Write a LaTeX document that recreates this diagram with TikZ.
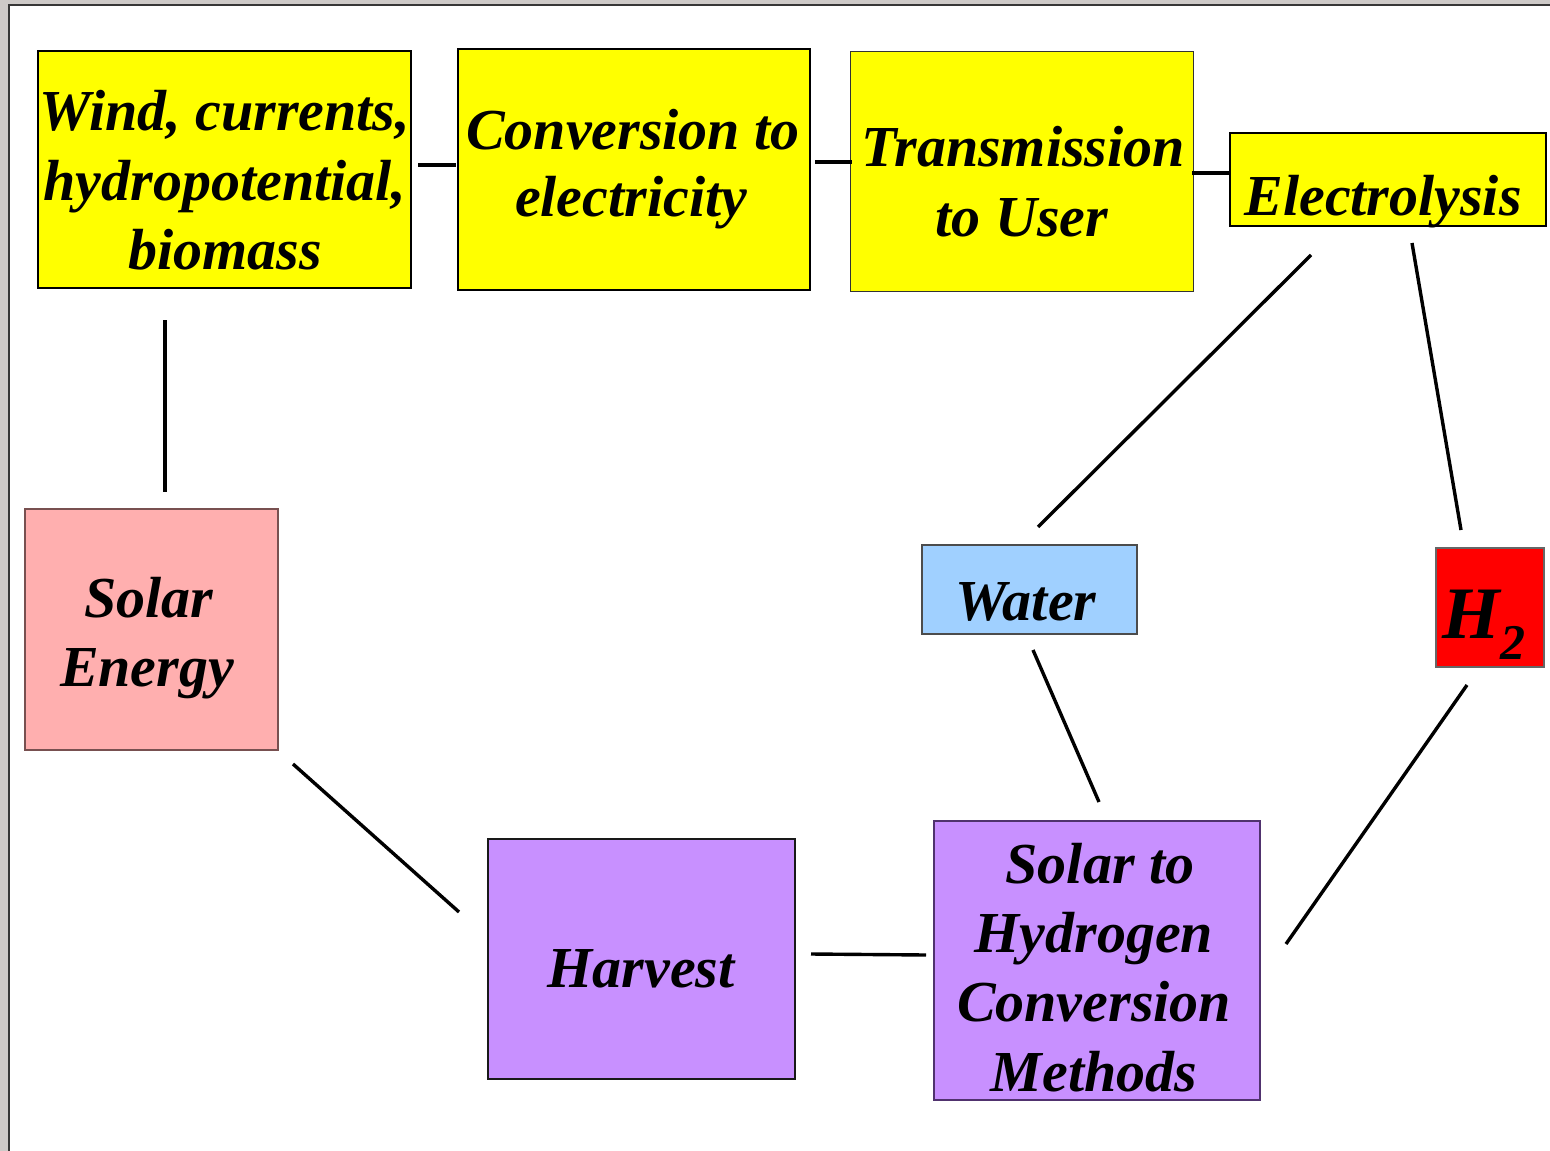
\documentclass[tikz,border=0pt]{standalone}
\usepackage{fontspec}
\setmainfont{Liberation Serif}
\definecolor{yel}{RGB}{255,255,0}
\definecolor{pinkbox}{RGB}{255,175,175}
\definecolor{waterbox}{RGB}{160,208,255}
\definecolor{redbox}{RGB}{255,0,0}
\definecolor{purplebox}{RGB}{200,144,255}
\definecolor{bgout}{RGB}{206,202,200}
\definecolor{framecol}{RGB}{55,55,55}
\begin{document}
\begin{tikzpicture}[x=1pt,y=-1pt,
  box/.style={draw, inner sep=0pt, outer sep=0pt},
  lbl/.style={anchor=base, inner sep=0pt, outer sep=0pt, font=\fontsize{58}{70}\selectfont\bfseries\itshape},
  link/.style={line width=3.4pt}]
\useasboundingbox (0,0) rectangle (1550,1151);
\fill[white] (0,0) rectangle (1550,1151);
\fill[bgout] (0,0) rectangle (8,1151);
\fill[bgout] (0,0) rectangle (1550,4);
\draw[line width=2pt, framecol] (8.5,1151) -- (8.5,4.5) -- (1550,4.5);

% boxes
\node[box, fill=yel, line width=2pt, minimum width=373pt, minimum height=237pt] (wind) at (224.5,169.5) {};
\node[box, fill=yel, line width=2pt, minimum width=352pt, minimum height=241pt] (conv) at (634,169.5) {};
\node[box, fill=yel, line width=1pt, draw=black!80, minimum width=343pt, minimum height=240pt] (trans) at (1021.5,171) {};
\node[box, fill=yel, line width=2pt, minimum width=316pt, minimum height=93pt] (elec) at (1388,179.5) {};
\node[box, fill=pinkbox, line width=1.2pt, draw={rgb,255:red,120;green,80;blue,80}, minimum width=253pt, minimum height=241pt] (solar) at (151.5,629.5) {};
\node[box, fill=waterbox, line width=1.2pt, draw=black!70, minimum width=215pt, minimum height=89pt] (water) at (1029.5,589.5) {};
\node[box, fill=redbox, line width=1.2pt, draw=black!60, minimum width=108pt, minimum height=119pt] (htwo) at (1490,607.5) {};
\node[box, fill=purplebox, line width=2pt, draw=black!90, minimum width=307pt, minimum height=240pt] (harv) at (641.5,959) {};
\node[box, fill=purplebox, line width=1.2pt, draw={rgb,255:red,80;green,50;blue,110}, minimum width=326pt, minimum height=279pt] (sth) at (1097,960.5) {};

% labels
\node[lbl] (wind1) at (225,130) {Wind, currents,};
\node[lbl] (wind2) at (225,200) {hydropotential,};
\node[lbl] (wind3) at (225,269) {biomass};
\node[lbl] (conv1) at (633,149) {Conversion to};
\node[lbl] (conv2) at (631,216) {electricity};
\node[lbl] (trans1) at (1023,166) {Transmission};
\node[lbl] (trans2) at (1022,236) {to User};
\node[lbl] (elec1) at (1383,215) {Electrolysis};
\node[lbl] (solar1) at (149,617) {Solar};
\node[lbl] (solar2) at (147,686) {Energy};
\node[lbl] (water1) at (1026,620) {Water};
\node[lbl, font=\fontsize{74}{80}\selectfont\bfseries\itshape] (htwo1) at (1484,638) {H\raisebox{-21pt}{\fontsize{50}{50}\selectfont 2}};
\node[lbl] (harv1) at (641,987) {Harvest};
\node[lbl] (sth1) at (1100,883) {Solar to};
\node[lbl] (sth2) at (1094,952) {Hydrogen};
\node[lbl] (sth3) at (1094,1021) {Conversion};
\node[lbl] (sth4) at (1094,1091) {Methods};

% connector end points
\coordinate (wc1) at (418,165);   \coordinate (wc2) at (456,165);
\coordinate (ct1) at (815,162);   \coordinate (ct2) at (852,162);
\coordinate (te1) at (1192,173);  \coordinate (te2) at (1230,173);
\coordinate (ws1) at (165,320);   \coordinate (ws2) at (165,492);
\coordinate (ew1) at (1311,255);  \coordinate (ew2) at (1038,527);
\coordinate (eh1) at (1412,243);  \coordinate (eh2) at (1461,530);
\coordinate (wt1) at (1033,650);  \coordinate (wt2) at (1099,802);
\coordinate (ht1) at (1467,685);  \coordinate (ht2) at (1286,944);
\coordinate (sh1) at (293,764);   \coordinate (sh2) at (459,912);
\coordinate (hs1) at (811,954);   \coordinate (hs2) at (926,955);

\draw[link] (wc1) -- (wc2);
\draw[link] (ct1) -- (ct2);
\draw[link] (te1) -- (te2);
\draw[link] (ws1) -- (ws2);
\draw[link] (ew1) -- (ew2);
\draw[link] (eh1) -- (eh2);
\draw[link] (wt1) -- (wt2);
\draw[link] (ht1) -- (ht2);
\draw[link] (sh1) -- (sh2);
\draw[link] (hs1) -- (hs2);
\end{tikzpicture}
\end{document}
